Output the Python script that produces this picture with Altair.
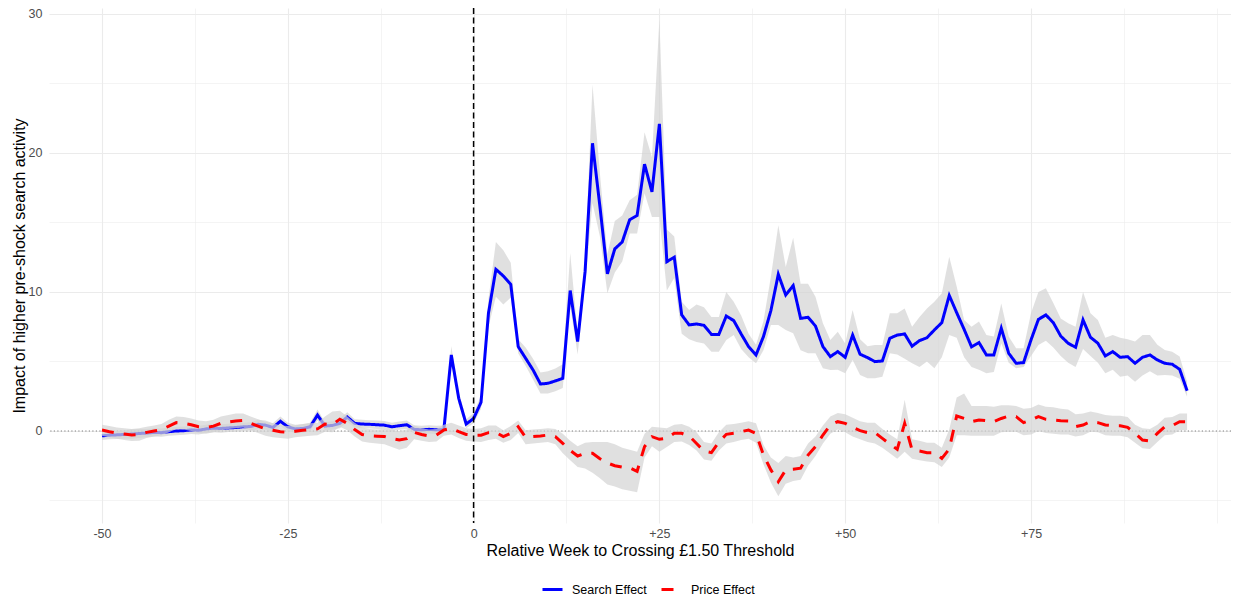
import altair as alt
import pandas as pd

weeks = list(range(-50, 97))

search_est = [
    -0.35, -0.30, -0.28, -0.25, -0.22, -0.18, -0.15, -0.10, -0.12, -0.05,
    0.00, 0.02, 0.08, 0.05, 0.15, 0.20, 0.18, 0.22, 0.25, 0.30,
    0.32, 0.48, 0.42, 0.25, 0.70, 0.30, 0.15, 0.18, 0.30, 1.15,
    0.35, 0.40, 0.55, 1.00, 0.55, 0.50, 0.48, 0.45, 0.42, 0.30,
    0.38, 0.45, 0.12, 0.08, 0.12, 0.08, 0.10, 5.47, 2.35, 0.50,
    0.90, 2.06, 8.47, 11.63, 11.15, 10.55, 6.07, 5.23, 4.39, 3.38,
    3.43, 3.60, 3.79, 10.10, 6.43, 11.46, 20.70, 16.14, 11.30, 13.10,
    13.60, 15.20, 15.50, 19.20, 17.20, 22.10, 12.18, 12.50, 8.35, 7.63,
    7.70, 7.60, 6.95, 6.95, 8.27, 7.94, 6.98, 6.07, 5.47, 6.79,
    8.66, 11.27, 9.78, 10.46, 8.10, 8.18, 7.55, 6.07, 5.35, 5.71,
    5.30, 6.90, 5.52, 5.28, 4.99, 5.04, 6.67, 6.90, 6.98, 6.10,
    6.50, 6.71, 7.27, 7.79, 9.75, 8.51, 7.31, 6.05, 6.36, 5.47,
    5.47, 7.39, 5.59, 4.87, 4.92, 6.55, 8.03, 8.35, 7.79, 6.83,
    6.31, 6.02, 7.99, 6.74, 6.31, 5.40, 5.71, 5.30, 5.35, 4.87,
    5.30, 5.47, 5.11, 4.87, 4.80, 4.44, 2.90,
]
search_lo = [
    -0.65, -0.60, -0.58, -0.55, -0.55, -0.50, -0.45, -0.40, -0.42, -0.35,
    -0.30, -0.28, -0.22, -0.25, -0.15, -0.10, -0.12, -0.08, -0.05, 0.00,
    0.02, 0.15, 0.10, -0.05, 0.35, 0.00, -0.15, -0.12, 0.00, 0.75,
    0.05, 0.10, 0.20, 0.65, 0.25, 0.20, 0.18, 0.15, 0.12, 0.00,
    0.08, 0.15, -0.18, -0.22, -0.18, -0.22, -0.20, 4.90, 1.90, 0.20,
    0.55, 1.60, 7.50, 9.66, 9.10, 9.60, 5.60, 4.70, 3.70, 2.70,
    2.70, 2.85, 3.10, 9.00, 5.50, 10.60, 16.40, 14.00, 9.90, 11.40,
    12.20, 14.20, 14.20, 17.10, 15.40, 15.40, 10.10, 11.00, 7.00, 6.60,
    6.40, 6.30, 5.70, 5.70, 6.55, 6.90, 5.90, 5.30, 4.87, 5.80,
    7.63, 7.63, 7.27, 7.03, 5.80, 5.60, 5.59, 4.51, 4.39, 4.40,
    4.15, 5.10, 4.03, 3.80, 3.79, 3.90, 5.59, 5.50, 5.20, 4.87,
    4.60, 5.00, 4.51, 5.30, 6.90, 6.70, 5.30, 4.60, 4.40, 4.15,
    4.25, 6.31, 4.90, 4.51, 4.60, 5.40, 6.19, 6.50, 6.00, 5.40,
    4.90, 4.60, 5.90, 5.40, 4.90, 4.15, 4.40, 3.90, 4.00, 3.55,
    4.00, 4.30, 4.00, 4.03, 4.00, 3.75, 2.47,
]
search_hi = [
    -0.05, 0.00, 0.02, 0.05, 0.12, 0.15, 0.15, 0.20, 0.18, 0.25,
    0.30, 0.32, 0.38, 0.35, 0.45, 0.50, 0.48, 0.52, 0.55, 0.60,
    0.62, 0.80, 0.75, 0.55, 1.05, 0.60, 0.45, 0.48, 0.60, 1.55,
    0.65, 0.70, 0.90, 1.35, 0.85, 0.80, 0.78, 0.75, 0.72, 0.60,
    0.68, 0.75, 0.42, 0.38, 0.42, 0.38, 0.40, 6.10, 2.80, 0.85,
    1.30, 2.55, 9.50, 13.60, 13.00, 12.10, 6.60, 6.00, 5.20, 4.20,
    4.30, 4.50, 4.80, 12.80, 7.00, 12.30, 24.90, 18.50, 12.70, 15.10,
    15.50, 16.60, 17.00, 21.50, 19.70, 29.60, 14.50, 14.00, 9.30, 8.70,
    9.10, 8.90, 8.20, 8.20, 10.00, 9.30, 8.30, 7.00, 6.20, 7.90,
    11.10, 14.80, 11.80, 13.90, 10.60, 10.60, 9.66, 7.75, 6.55, 7.14,
    6.30, 8.70, 6.60, 6.10, 6.19, 6.19, 8.47, 8.47, 8.82, 7.50,
    8.20, 8.82, 9.30, 9.90, 12.54, 10.40, 7.99, 7.50, 7.87, 6.90,
    6.80, 9.18, 6.80, 5.95, 5.95, 8.47, 10.00, 10.27, 9.20, 8.10,
    7.75, 7.50, 10.00, 8.47, 7.99, 6.70, 6.90, 6.70, 6.60, 6.43,
    6.90, 6.90, 6.20, 5.83, 5.70, 5.35, 3.55,
]

price_est = [
    0.07, -0.05, -0.15, -0.22, -0.28, -0.25, -0.10, 0.00, 0.10, 0.35,
    0.60, 0.55, 0.45, 0.30, 0.25, 0.35, 0.55, 0.65, 0.72, 0.75,
    0.55, 0.35, 0.15, 0.05, -0.05, -0.10, -0.02, 0.05, 0.10, 0.15,
    0.50, 0.45, 0.85, 0.55, 0.10, -0.25, -0.35, -0.38, -0.40, -0.55,
    -0.65, -0.55, -0.10, -0.25, -0.35, -0.30, 0.07, 0.19, -0.05, -0.25,
    -0.30, -0.30, -0.12, -0.10, -0.40, -0.17, 0.31, -0.45, -0.40, -0.36,
    -0.29, -0.41, -0.89, -1.40, -1.80, -1.60, -1.60, -2.00, -2.30, -2.50,
    -2.60, -2.65, -2.90, -1.13, -0.41, -0.60, -0.53, -0.17, -0.17, -0.36,
    -0.90, -1.45, -1.56, -0.80, -0.24, -0.17, -0.05, 0.07, -0.17, -1.73,
    -2.80, -3.65, -2.80, -2.76, -2.68, -1.73, -1.13, -0.29, 0.43, 0.67,
    0.55, 0.26, 0.02, -0.12, -0.12, -0.53, -0.94, -1.32, 0.55, -1.37,
    -1.44, -1.56, -1.56, -1.97, -1.30, 1.08, 0.91, 0.67, 0.79, 0.74,
    0.67, 0.90, 1.08, 1.03, 0.60, 0.79, 1.03, 0.84, 0.79, 0.74,
    0.72, 0.31, 0.43, 0.67, 0.60, 0.43, 0.38, 0.38, 0.26, -0.17,
    -0.65, -0.72, -0.17, 0.31, 0.38, 0.67, 0.67,
]
price_lo = [
    -0.35, -0.45, -0.55, -0.65, -0.72, -0.70, -0.50, -0.40, -0.30, -0.10,
    0.15, 0.10, 0.00, -0.15, -0.20, -0.10, 0.05, 0.15, 0.20, 0.25,
    0.05, -0.15, -0.35, -0.45, -0.50, -0.55, -0.45, -0.40, -0.35, -0.30,
    -0.05, -0.10, 0.30, 0.05, -0.40, -0.75, -0.85, -0.90, -0.95, -1.15,
    -1.35, -1.20, -0.60, -0.70, -0.80, -0.75, -0.35, -0.25, -0.50, -0.70,
    -0.75, -0.80, -0.65, -0.55, -0.85, -0.65, -0.15, -0.95, -0.90, -0.85,
    -0.80, -0.95, -1.60, -2.10, -2.60, -2.70, -3.00, -3.40, -3.85, -4.00,
    -4.20, -4.30, -4.40, -1.90, -1.10, -1.50, -1.15, -0.80, -0.75, -1.00,
    -1.40, -2.05, -2.15, -1.40, -0.90, -0.80, -0.65, -0.55, -0.85, -2.40,
    -3.70, -4.70, -3.80, -3.60, -3.50, -2.50, -1.80, -0.90, -0.20, 0.10,
    -0.10, -0.40, -0.60, -0.80, -0.90, -1.20, -1.60, -2.00, -1.50, -2.00,
    -2.10, -2.20, -2.25, -2.60, -1.90, -0.30, -0.30, -0.35, -0.35, -0.35,
    -0.35, -0.10, -0.05, -0.05, -0.30, -0.25, 0.00, -0.15, -0.20, -0.25,
    -0.25, -0.40, -0.30, -0.05, -0.10, -0.30, -0.35, -0.35, -0.45, -0.85,
    -1.25, -1.30, -0.80, -0.30, -0.25, 0.05, 0.05,
]
price_hi = [
    0.45, 0.35, 0.25, 0.20, 0.15, 0.20, 0.30, 0.40, 0.50, 0.80,
    1.05, 1.00, 0.90, 0.75, 0.70, 0.80, 1.05, 1.15, 1.25, 1.25,
    1.05, 0.85, 0.65, 0.55, 0.40, 0.35, 0.40, 0.50, 0.55, 0.60,
    1.05, 1.40, 1.45, 1.05, 0.60, 0.25, 0.15, 0.10, 0.15, 0.05,
    0.00, 0.10, 0.40, 0.20, 0.10, 0.15, 0.45, 0.60, 0.40, 0.20,
    0.15, 0.20, 0.40, 0.40, 0.05, 0.35, 0.75, 0.05, 0.10, 0.15,
    0.20, 0.15, -0.20, -0.70, -1.10, -0.85, -0.80, -0.80, -0.80, -0.95,
    -1.20, -1.35, -1.50, -0.20, 0.30, 0.25, 0.20, 0.45, 0.50, 0.30,
    -0.10, -0.80, -0.90, -0.10, 0.45, 0.50, 0.60, 0.70, 0.55, -1.00,
    -1.90, -2.30, -1.80, -1.90, -1.80, -0.90, -0.40, 0.40, 1.05, 1.30,
    1.20, 0.95, 0.70, 0.60, 0.60, 0.15, -0.25, -0.60, 2.25, -0.60,
    -0.70, -0.85, -0.85, -1.20, 0.10, 2.40, 2.70, 1.80, 1.80, 1.80,
    1.75, 1.85, 1.85, 1.80, 1.60, 1.65, 1.90, 1.75, 1.70, 1.60,
    1.55, 1.20, 1.25, 1.40, 1.30, 1.15, 1.10, 1.10, 1.00, 0.45,
    0.20, 0.15, 0.45, 0.95, 1.00, 1.25, 1.25,
]

series_names = ["Search Effect", "Price Effect"]
series_colors = ["#0000ff", "#ff0000"]
series_dashes = [[1, 0], [12, 10]]
x_ticks = [-50, -37.5, -25, -12.5, 0, 12.5, 25, 37.5, 50, 62.5, 75, 87.5, 100]
y_ticks = [-5, 0, 5, 10, 15, 20, 25, 30]

df = pd.concat([
    pd.DataFrame({"week": weeks, "est": search_est, "lo": search_lo,
                  "hi": search_hi, "effect": series_names[0]}),
    pd.DataFrame({"week": weeks, "est": price_est, "lo": price_lo,
                  "hi": price_hi, "effect": series_names[1]}),
], ignore_index=True)

FONT = "Liberation Sans"
X_DOMAIN = [-57.13, 101.91]

x_enc = alt.X(
    "week:Q",
    scale=alt.Scale(domain=X_DOMAIN, nice=False, zero=False),
    axis=alt.Axis(
        values=x_ticks,
        labelExpr="datum.value % 25 === 0 && datum.value < 100 ? (datum.value > 0 ? '+' + datum.value : '' + datum.value) : ''",
        title="Relative Week to Crossing £1.50 Threshold",
        labelPadding=4, titlePadding=3,
        gridWidth={"condition": {"test": "datum.value % 25 === 0 && datum.value < 100", "value": 1.1}, "value": 0.55},
    ),
)
y_scale = alt.Scale(domain=[-6.62, 30.43], nice=False, zero=False)
y_axis = alt.Axis(
    values=y_ticks,
    labelExpr="datum.value % 10 === 0 && datum.value >= 0 ? '' + datum.value : ''",
    title="Impact of higher pre-shock search activity",
    labelPadding=7, titlePadding=1,
    gridWidth={"condition": {"test": "datum.value % 10 === 0", "value": 1.1}, "value": 0.55},
)

legend = alt.Legend(
    title=None, orient="none", legendX=492, legendY=570, direction="horizontal",
    symbolType="stroke", symbolSize=400, symbolStrokeWidth=3,
    labelFontSize=12.5, labelFont=FONT, labelColor="black",
    columnPadding=8, labelOffset=8, padding=0,
)
color_enc = alt.Color("effect:N", scale=alt.Scale(domain=series_names, range=series_colors), legend=legend)
dash_enc = alt.StrokeDash("effect:N", scale=alt.Scale(domain=series_names, range=series_dashes), legend=legend)

base = alt.Chart(df)

hline = alt.Chart(pd.DataFrame({"y": [0]})).mark_rule(
    color="#808080", strokeWidth=1.1, strokeDash=[1.2, 2.3]
).encode(y=alt.Y("y:Q", scale=y_scale, axis=y_axis))

def ribbon(name):
    return base.transform_filter(alt.datum.effect == name).mark_area(
        color="#d3d3d3", opacity=0.7
    ).encode(x=x_enc, y=alt.Y("lo:Q", scale=y_scale, axis=y_axis), y2="hi:Q")

def line(name):
    return base.transform_filter(alt.datum.effect == name).mark_line(
        strokeWidth=3, strokeCap="butt"
    ).encode(x=x_enc, y=alt.Y("est:Q", scale=y_scale, axis=y_axis),
             color=color_enc, strokeDash=dash_enc, order="week:Q")

vline = alt.Chart(pd.DataFrame({"x": [0]})).mark_rule(
    color="black", strokeWidth=1.5, strokeDash=[6, 3.5]
).encode(x=alt.X("x:Q", scale=alt.Scale(domain=X_DOMAIN, nice=False, zero=False)))

chart = alt.layer(
    hline, ribbon(series_names[0]), line(series_names[0]),
    ribbon(series_names[1]), line(series_names[1]), vline,
).properties(
    width=1182, height=515,
    autosize=alt.AutoSizeParams(type="none"),
    padding={"left": 41, "top": 0, "right": 0, "bottom": 74},
).configure_view(stroke=None).configure_axis(
    domain=False, ticks=False,
    labelFont=FONT, titleFont=FONT,
    labelFontSize=12.5, titleFontSize=16,
    labelColor="#4d4d4d", titleColor="black", titleFontWeight="normal",
    gridColor="#ebebeb",
)

chart.save("out.html", embed_options={"renderer": "svg", "actions": False})
